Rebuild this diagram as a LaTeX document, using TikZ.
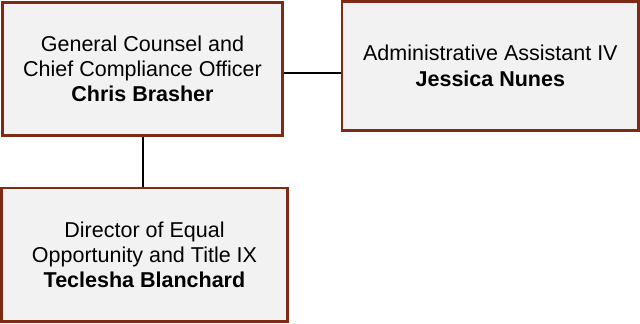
\documentclass[tikz,border=0pt]{standalone}
\usepackage{fontspec}
\setmainfont{Liberation Sans}
\definecolor{boxborder}{HTML}{7F2A14}
\definecolor{boxfill}{HTML}{F2F2F2}
\begin{document}
\begin{tikzpicture}[x=1pt,y=-1pt,
  orgbox/.style={draw=boxborder,fill=boxfill,line width=2.5pt,inner sep=0pt,align=center,
    font=\fontsize{21.5}{25.3}\selectfont},
  conn/.style={draw=black,line width=1.2pt}]
\useasboundingbox (0,0) rectangle (640,324);
\node[orgbox,minimum width=280.4pt,minimum height=133.2pt] (A) at (142.5,68.9)
  {General Counsel and\\Chief Compliance Officer\\\textbf{Chris Brasher}};
\node[orgbox,minimum width=296.7pt,minimum height=129.2pt] (B) at (490.35,65.9)
  {Administrative Assistant IV\\\textbf{Jessica Nunes}};
\node[orgbox,minimum width=286.4pt,minimum height=133.5pt] (C) at (144.5,254.75)
  {Director of Equal\\Opportunity and Title IX\\\textbf{Teclesha Blanchard}};
\draw[conn] ([yshift=-4pt]A.east) -- ([yshift=-4pt]A.east -| B.west);
\draw[conn] ([xshift=0.5pt]A.south) -- ([xshift=0.5pt]A.south |- C.north);
\end{tikzpicture}
\end{document}
